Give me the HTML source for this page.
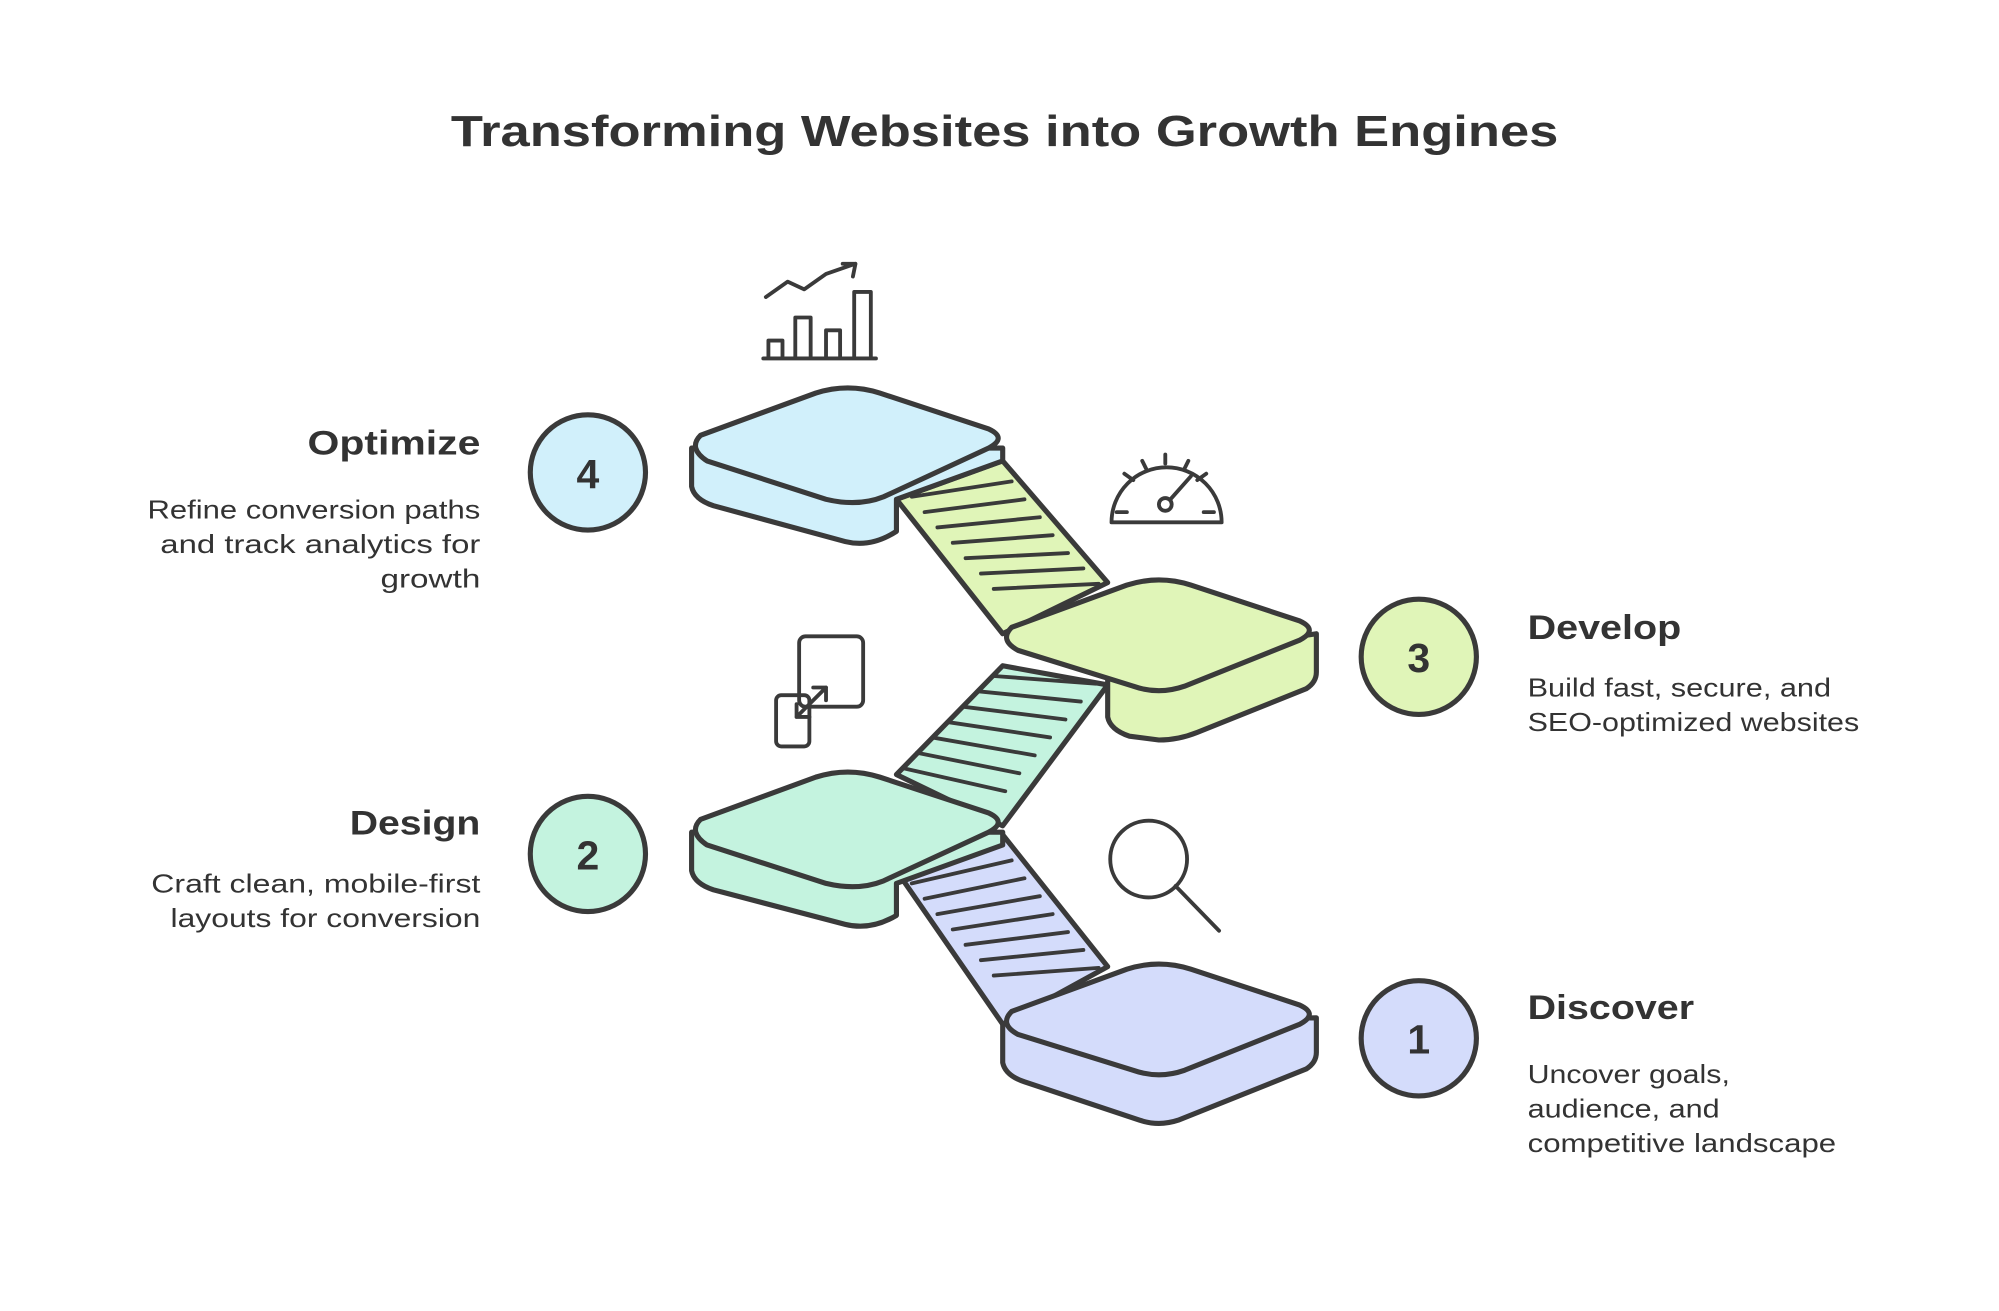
<!DOCTYPE html>
<html><head><meta charset="utf-8"><style>
html,body{margin:0;padding:0;background:#fff;}
svg{display:block;}
text{font-family:"Liberation Sans",sans-serif;fill:#333;}
</style></head><body>
<svg width="1999" height="1311" viewBox="0 0 1561 1024" xmlns="http://www.w3.org/2000/svg">
<rect width="1561" height="1024" fill="#fff"/>
<text x="352" y="114" font-size="34" font-weight="bold" textLength="865" lengthAdjust="spacingAndGlyphs" fill="#3a3a3a">Transforming Websites into Growth Engines</text>

<g stroke="#3a3a3a" stroke-width="4" stroke-linejoin="round" stroke-linecap="round">
<!-- stairs 1-2 -->
<path d="M700,680 L783,652 L865,755 L783,800 Z" fill="#d4dcfb"/>
<path d="M712,690 L790,672 M722,702 L800,686 M732,714 L812,700 M744,726 L822,714 M754,738 L834,728 M766,750 L846,742 M776,762 L858,756" fill="none" stroke-width="3"/>
<!-- stairs 2-3 -->
<path d="M700,605 L783,520 L865,535 L783,645 Z" fill="#c4f3df"/>
<path d="M705,600 L785,618 M716,588 L796,604 M728,576 L808,590 M740,564 L820,576 M752,552 L832,562 M764,540 L844,548 M776,528 L856,534" fill="none" stroke-width="3"/>
<!-- stairs 3-4 -->
<path d="M700,390 L783,360 L865,455 L783,495 Z" fill="#e0f5b8"/>
<path d="M712,388 L790,376 M722,400 L800,390 M732,412 L812,404 M744,424 L822,418 M754,436 L834,432 M766,448 L846,444 M776,460 L858,456" fill="none" stroke-width="3"/>

<!-- platform 1 -->
<path d="M783,800 L783,830 Q785,840 800,845 L890,875 Q905,880 920,875 L1020,835 Q1028,830 1028,822 L1028,795 Z" fill="#d4dcfb"/>
<path d="M790,790 L880,757 Q905,749 930,757 L1015,785 Q1030,792 1015,800 L925,836 Q905,843 885,836 L795,808 Q780,800 790,790 Z" fill="#d4dcfb"/>
<!-- platform 2 -->
<path d="M540,650 L540,680 Q542,690 557,695 L660,722 Q680,727 700,715 L700,690 L783,660 L783,650 Z" fill="#c4f3df"/>
<path d="M547,640 L637,607 Q662,599 687,607 L772,635 Q787,642 772,650 L690,688 Q670,696 645,690 L552,660 Q537,650 547,640 Z" fill="#c4f3df"/>
<!-- platform 3 -->
<path d="M865,535 L865,560 Q867,570 882,575 L905,578 Q920,578 935,572 L1020,538 Q1028,533 1028,525 L1028,495 L865,520 Z" fill="#e0f5b8"/>
<path d="M790,490 L880,457 Q905,449 930,457 L1015,485 Q1030,492 1015,500 L925,536 Q905,543 885,536 L795,508 Q780,500 790,490 Z" fill="#e0f5b8"/>
<!-- platform 4 -->
<path d="M540,350 L540,380 Q542,390 557,395 L660,423 Q680,428 700,415 L700,390 L783,360 L783,350 Z" fill="#d1f0fb"/>
<path d="M547,340 L637,307 Q662,299 687,307 L772,335 Q787,342 772,350 L690,388 Q670,396 645,390 L552,360 Q537,350 547,340 Z" fill="#d1f0fb"/>

<!-- circles -->
<circle cx="459" cy="369" r="45" fill="#d1f0fb"/>
<circle cx="1108" cy="513" r="45" fill="#e0f5b8"/>
<circle cx="459" cy="667" r="45" fill="#c4f3df"/>
<circle cx="1108" cy="811" r="45" fill="#d4dcfb"/>
</g>
<g font-size="32" font-weight="bold" text-anchor="middle" fill="#333">
<text x="459" y="381">4</text><text x="1108" y="525">3</text><text x="459" y="679">2</text><text x="1108" y="823">1</text>
</g>

<!-- icons -->
<g stroke="#3a3a3a" stroke-width="3" fill="none" stroke-linecap="round" stroke-linejoin="round">
<path d="M598,232 L615,220 L628,226 L645,214 L668,206 M658,206 L668,206 L666,216"/>
<path d="M596,280 L684,280 M600,280 V266 H611 V280 M621,280 V248 H633 V280 M645,280 V258 H656 V280 M667,280 V228 H680 V280"/>
<path d="M868,408 A43,43 0 0 1 954,408 Z"/>
<circle cx="910" cy="394" r="5"/><path d="M914,390 L930,372 M880,400 L872,400 M940,400 L948,400 M885,375 L878,370 M910,362 V355 M935,375 L942,370 M895,366 L892,360 M925,366 L928,360"/>
<rect x="624" y="497" width="50" height="55" rx="5"/>
<rect x="606" y="543" width="26" height="40" rx="4"/>
<path d="M622,560 L645,537 M635,537 H645 V547 M622,550 V560 H632"/>
<circle cx="897" cy="671" r="30"/><path d="M918,692 L952,727"/>
</g>

<!-- labels -->
<g font-size="27" font-weight="bold" lengthAdjust="spacingAndGlyphs">
<text x="240" y="355" textLength="135" lengthAdjust="spacingAndGlyphs">Optimize</text>
<text x="273" y="652" textLength="102" lengthAdjust="spacingAndGlyphs">Design</text>
<text x="1193" y="499" textLength="120" lengthAdjust="spacingAndGlyphs">Develop</text>
<text x="1193" y="796" textLength="130" lengthAdjust="spacingAndGlyphs">Discover</text>
</g>
<g font-size="20" fill="#444">
<text x="115" y="405" textLength="260" lengthAdjust="spacingAndGlyphs">Refine conversion paths</text>
<text x="125" y="432" textLength="250" lengthAdjust="spacingAndGlyphs">and track analytics for</text>
<text x="297" y="459" textLength="78" lengthAdjust="spacingAndGlyphs">growth</text>
<text x="118" y="697" textLength="257" lengthAdjust="spacingAndGlyphs">Craft clean, mobile-first</text>
<text x="133" y="724" textLength="242" lengthAdjust="spacingAndGlyphs">layouts for conversion</text>
<text x="1193" y="544" textLength="237" lengthAdjust="spacingAndGlyphs">Build fast, secure, and</text>
<text x="1193" y="571" textLength="259" lengthAdjust="spacingAndGlyphs">SEO-optimized websites</text>
<text x="1193" y="846" textLength="158" lengthAdjust="spacingAndGlyphs">Uncover goals,</text>
<text x="1193" y="873" textLength="150" lengthAdjust="spacingAndGlyphs">audience, and</text>
<text x="1193" y="900" textLength="241" lengthAdjust="spacingAndGlyphs">competitive landscape</text>
</g>
</svg>
</body></html>
